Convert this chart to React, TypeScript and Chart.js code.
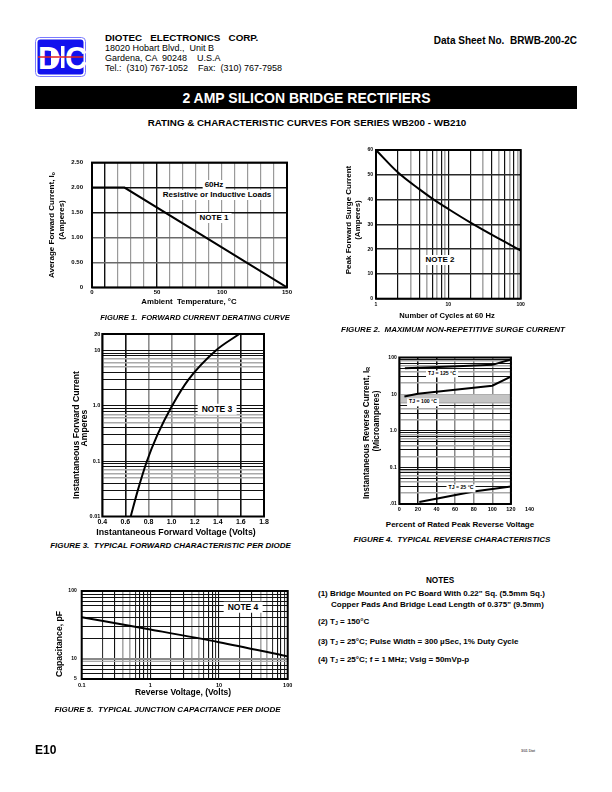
import React, { useEffect, useRef } from 'react';
import { Chart, registerables } from 'chart.js';

Chart.register(...registerables);

const FONT = '"Liberation Sans", Arial, Helvetica, sans-serif';
Chart.defaults.font.family = FONT;
Chart.defaults.color = '#000';

// ---------------- Figure 1: forward current derating ----------------
const fig1Temperature = [0, 25, 150];
const fig1Current = [2.0, 2.0, 0];
const fig1XLabelValues = [0, 50, 100, 150];
const fig1YValues = [0, 0.5, 1, 1.5, 2, 2.5];
const fig1YLabels = ['0', '0.50', '1.00', '1.50', '2.00', '2.50'];

// ---------------- Figure 2: surge current ----------------
const fig2Cycles = [1, 2, 4, 6, 10, 20, 50, 100];
const fig2Surge = [60, 51, 44.1, 40.4, 36.2, 30.8, 24.2, 19.4];
const fig2XLabelValues = [1, 10, 100];

// ---------------- Figure 3: forward characteristic ----------------
const fig3Voltage = [0.646, 0.708, 0.786, 0.877, 1.003, 1.146, 1.381, 1.586];
const fig3Current = [0.01, 0.03, 0.1, 0.3, 1, 3, 10, 20];
const fig3YValues = [0.01, 0.1, 1, 10, 20];
const fig3YLabels = ['0.01', '0.1', '1.0', '10', '20'];

// ---------------- Figure 4: reverse characteristics ----------------
const fig4Percent125 = [6, 50, 100, 120];
const fig4Current125 = [51, 56, 63, 88];
const fig4Percent100 = [5.5, 20, 50, 80, 100, 120];
const fig4Current100 = [8.6, 10.3, 12.4, 15, 17, 30];
const fig4Percent25 = [21.5, 80, 120];
const fig4Current25 = [0.0113, 0.022, 0.03];
const fig4YValues = [0.01, 0.1, 1, 10, 100];
const fig4YLabels = ['.01', '0.1', '1.0', '10', '100'];
const fig4FrameMax = 120;
const fig4BandLow = 6;
const fig4BandHigh = 10;

// ---------------- Figure 5: junction capacitance ----------------
const fig5Voltage = [0.1, 1, 10, 100];
const fig5Capacitance = [41, 27, 17.5, 10.8];
const fig5XValues = [0.1, 1, 10, 100];
const fig5XLabels = ['0.1', '1', '10', '100'];
const fig5YValues = [5, 10, 100];
const fig5YLabels = ['5', '10', '100'];

const BLACK = '#111';
const GRAY = '#a9a9a9';

const mant = (v: number) => {
  const e = Math.floor(Math.log10(v) + 1e-9);
  return Math.round(v / Math.pow(10, e));
};

function logTicks(min: number, max: number) {
  const out: number[] = [];
  for (let e = Math.floor(Math.log10(min)) - 1; e <= Math.ceil(Math.log10(max)); e++) {
    for (let m = 1; m < 10; m++) {
      const v = +(m * Math.pow(10, e)).toPrecision(6);
      if (v >= min * 0.9999 && v <= max * 1.0001) out.push(v);
    }
  }
  return out;
}

const labelFrom = (values: number[], labels: string[]) => (v: any) => {
  const n = Number(v);
  const i = values.findIndex((x) => Math.abs(x - n) < Math.abs(x) * 1e-6 + 1e-9);
  return i >= 0 ? labels[i] : '';
};

const tf = (size: number) => ({ family: FONT, size, weight: 'bold' as const });

const xy = (xs: number[], ys: number[]) => xs.map((x, i) => ({ x, y: ys[i] }));

const line = (data: any[], smooth: boolean) => ({
  data,
  borderColor: '#000',
  borderWidth: 2,
  pointRadius: 0,
  fill: false,
  tension: smooth ? 0.4 : 0,
  cubicInterpolationMode: smooth ? 'monotone' : 'default',
});

const framePlugin = (lw: number, xMaxValue?: number) => ({
  id: 'frame',
  beforeDatasetsDraw(chart: any) {
    const { ctx, chartArea: a } = chart;
    let right = a.right;
    ctx.save();
    if (xMaxValue !== undefined) {
      right = chart.scales.x.getPixelForValue(xMaxValue);
      ctx.fillStyle = '#fff';
      ctx.fillRect(right + 1, a.top - 2, a.right - right + 3, a.bottom - a.top + 3);
    }
    ctx.strokeStyle = '#000';
    ctx.lineWidth = lw;
    ctx.strokeRect(a.left, a.top, right - a.left, a.bottom - a.top);
    ctx.restore();
  },
});

const bandPlugin = {
  id: 'band',
  beforeDatasetsDraw(chart: any) {
    const { ctx, chartArea: a, scales } = chart;
    const top = scales.y.getPixelForValue(fig4BandHigh);
    const bot = scales.y.getPixelForValue(fig4BandLow);
    const right = scales.x.getPixelForValue(fig4FrameMax);
    ctx.save();
    ctx.fillStyle = '#c4c4c4';
    ctx.fillRect(a.left, top, right - a.left, bot - top);
    ctx.restore();
  },
};

function makeConfig(p: {
  datasets: any[];
  x: any;
  y: any;
  yWidth: number;
  xHeight: number;
  padTop: number;
  padRight: number;
  plugins: any[];
}) {
  return {
    type: 'line',
    data: { datasets: p.datasets },
    options: {
      responsive: false,
      maintainAspectRatio: false,
      animation: false,
      layout: { padding: { left: 0, top: p.padTop, right: p.padRight, bottom: 0 } },
      plugins: { legend: { display: false }, tooltip: { enabled: false } },
      scales: {
        x: {
          ...p.x,
          border: { display: false },
          afterFit: (s: any) => {
            s.height = p.xHeight;
          },
        },
        y: {
          ...p.y,
          border: { display: false },
          afterFit: (s: any) => {
            s.width = p.yWidth;
          },
        },
      },
    },
    plugins: p.plugins,
  } as any;
}

function ChartCanvas(props: { left: number; top: number; width: number; height: number; build: () => any }) {
  const ref = useRef<HTMLCanvasElement>(null);
  useEffect(() => {
    const chart = new Chart(ref.current as HTMLCanvasElement, props.build());
    return () => chart.destroy();
  }, []);
  return (
    <canvas
      ref={ref}
      width={props.width}
      height={props.height}
      style={{ position: 'absolute', left: props.left, top: props.top, width: props.width, height: props.height }}
    />
  );
}

// ---------- chart builders ----------
const buildFig1 = () =>
  makeConfig({
    datasets: [line(xy(fig1Temperature, fig1Current), false)],
    x: {
      type: 'linear',
      min: 0,
      max: 150,
      ticks: {
        stepSize: 10,
        autoSkip: false,
        maxRotation: 0,
        padding: 1.5,
        font: tf(6),
        callback: (v: any) => (fig1XLabelValues.includes(Number(v)) ? String(v) : ''),
      },
      grid: {
        drawTicks: false,
        color: (c: any) => (c.tick && (c.tick.value === 10 || c.tick.value === 50) ? BLACK : '#9a9a9a'),
        lineWidth: (c: any) => (c.tick && (c.tick.value === 10 || c.tick.value === 50) ? 1.4 : 1.2),
      },
    },
    y: {
      type: 'linear',
      min: 0,
      max: 2.5,
      ticks: { stepSize: 0.5, padding: 9, font: tf(6), callback: labelFrom(fig1YValues, fig1YLabels) },
      grid: {
        drawTicks: false,
        color: (c: any) => (c.tick && c.tick.value >= 1.5 ? BLACK : '#6a6a6a'),
        lineWidth: 1.4,
      },
    },
    yWidth: 37,
    xHeight: 12.5,
    padTop: 8,
    padRight: 13,
    plugins: [framePlugin(2)],
  });

const fig2XColor = (v: number) => ([1, 2, 4, 6, 8].includes(mant(v)) ? BLACK : GRAY);
const buildFig2 = () =>
  makeConfig({
    datasets: [line(xy(fig2Cycles, fig2Surge), true)],
    x: {
      type: 'logarithmic',
      min: 1,
      max: 100,
      afterBuildTicks: (s: any) => {
        s.ticks = logTicks(1, 100).map((value) => ({ value }));
      },
      ticks: {
        autoSkip: false,
        maxRotation: 0,
        padding: 2.8,
        font: tf(5),
        callback: (v: any) => (fig2XLabelValues.includes(Number(v)) ? String(v) : ''),
      },
      grid: {
        drawTicks: false,
        color: (c: any) => (c.tick ? fig2XColor(c.tick.value) : BLACK),
        lineWidth: (c: any) => (c.tick && fig2XColor(c.tick.value) === GRAY ? 1.6 : 1.2),
      },
    },
    y: {
      type: 'linear',
      min: 0,
      max: 60,
      ticks: { stepSize: 10, padding: 3, font: tf(5) },
      grid: { drawTicks: false, color: '#2a2a2a', lineWidth: 1.4 },
    },
    yWidth: 36,
    xHeight: 11.3,
    padTop: 7,
    padRight: 14.3,
    plugins: [framePlugin(2)],
  });

const fig3YColor = (v: number) => ([5, 6, 7].includes(mant(v)) ? GRAY : BLACK);
const fig3XColor = (v: number) => (Math.abs(v - 0.6) < 0.01 || Math.abs(v - 1.6) < 0.01 ? BLACK : '#8c8c8c');
const buildFig3 = () =>
  makeConfig({
    datasets: [line(xy(fig3Voltage, fig3Current), true)],
    x: {
      type: 'linear',
      min: 0.4,
      max: 1.8,
      ticks: {
        stepSize: 0.2,
        autoSkip: false,
        maxRotation: 0,
        padding: 1.8,
        font: tf(7),
        callback: (v: any) => Number(v).toFixed(1),
      },
      grid: {
        drawTicks: false,
        color: (c: any) => (c.tick ? fig3XColor(c.tick.value) : BLACK),
        lineWidth: 1.6,
      },
    },
    y: {
      type: 'logarithmic',
      min: 0.01,
      max: 20,
      afterBuildTicks: (s: any) => {
        s.ticks = logTicks(0.01, 20).map((value) => ({ value }));
      },
      ticks: { autoSkip: false, padding: 2, font: tf(5.5), callback: labelFrom(fig3YValues, fig3YLabels) },
      grid: {
        drawTicks: false,
        color: (c: any) => (c.tick ? fig3YColor(c.tick.value) : BLACK),
        lineWidth: (c: any) => (c.tick && fig3YColor(c.tick.value) === GRAY ? 1.6 : 1.1),
      },
    },
    yWidth: 27.3,
    xHeight: 9.5,
    padTop: 8,
    padRight: 11,
    plugins: [framePlugin(2)],
  });

const fig4YColor = (v: number) => ([2, 4, 6, 8].includes(mant(v)) ? GRAY : BLACK);
const fig4XColor = (v: number) => (v === 20 || v === 40 || v === 120 ? BLACK : '#8a8a8a');
const buildFig4 = () =>
  makeConfig({
    datasets: [
      line(xy(fig4Percent125, fig4Current125), false),
      line(xy(fig4Percent100, fig4Current100), false),
      line(xy(fig4Percent25, fig4Current25), false),
    ],
    x: {
      type: 'linear',
      min: 0,
      max: 140,
      ticks: { stepSize: 20, autoSkip: false, maxRotation: 0, padding: 1.8, font: tf(5.5) },
      grid: {
        drawTicks: false,
        color: (c: any) => (c.tick ? fig4XColor(c.tick.value) : BLACK),
        lineWidth: (c: any) => (c.tick && c.tick.value === 120 ? 2.2 : 1.5),
      },
    },
    y: {
      type: 'logarithmic',
      min: 0.01,
      max: 100,
      afterBuildTicks: (s: any) => {
        s.ticks = logTicks(0.01, 100).map((value) => ({ value }));
      },
      ticks: { autoSkip: false, padding: 2.6, font: tf(5), callback: labelFrom(fig4YValues, fig4YLabels) },
      grid: {
        drawTicks: false,
        color: (c: any) => (c.tick ? fig4YColor(c.tick.value) : BLACK),
        lineWidth: (c: any) => (c.tick && fig4YColor(c.tick.value) === GRAY ? 1.4 : 1.1),
      },
    },
    yWidth: 34.3,
    xHeight: 11,
    padTop: 7.5,
    padRight: 10.5,
    plugins: [bandPlugin, framePlugin(2, fig4FrameMax)],
  });

const fig5XColor = (v: number) => ([1, 3, 7, 8].includes(mant(v)) ? BLACK : [4, 5].includes(mant(v)) ? GRAY : '#333');
const fig5YColor = (v: number) => (mant(v) === 1 && v < 50 ? '#8a8a8a' : mant(v) === 9 && v < 50 ? GRAY : BLACK);
const buildFig5 = () =>
  makeConfig({
    datasets: [line(xy(fig5Voltage, fig5Capacitance), true)],
    x: {
      type: 'logarithmic',
      min: 0.1,
      max: 100,
      afterBuildTicks: (s: any) => {
        s.ticks = logTicks(0.1, 100).map((value) => ({ value }));
      },
      ticks: { autoSkip: false, maxRotation: 0, padding: 3.5, font: tf(5.5), callback: labelFrom(fig5XValues, fig5XLabels) },
      grid: {
        drawTicks: false,
        color: (c: any) => (c.tick ? fig5XColor(c.tick.value) : BLACK),
        lineWidth: (c: any) => (c.tick && fig5XColor(c.tick.value) === GRAY ? 1.6 : 1.1),
      },
    },
    y: {
      type: 'logarithmic',
      min: 5,
      max: 100,
      afterBuildTicks: (s: any) => {
        s.ticks = logTicks(5, 100).map((value) => ({ value }));
      },
      ticks: { autoSkip: false, padding: 5, font: tf(5), callback: labelFrom(fig5YValues, fig5YLabels) },
      grid: {
        drawTicks: false,
        color: (c: any) => (c.tick ? fig5YColor(c.tick.value) : BLACK),
        lineWidth: (c: any) => (c.tick && c.tick.value === 10 ? 2.2 : 1.1),
      },
    },
    yWidth: 31.7,
    xHeight: 14,
    padTop: 7,
    padRight: 12.3,
    plugins: [framePlugin(2)],
  });

// ---------- text helper ----------
type TP = {
  x: number;
  y: number;
  s: number;
  c?: boolean;
  b?: boolean;
  i?: boolean;
  r?: boolean;
  right?: boolean;
  bg?: boolean;
  pad?: number;
  color?: string;
  children: React.ReactNode;
};
function Txt({ x, y, s, c = false, b = true, i = false, r = false, right = false, bg = false, pad = 0, color = '#000', children }: TP) {
  let transform = 'translate(0,-50%)';
  if (c) transform = 'translate(-50%,-50%)';
  if (right) transform = 'translate(-100%,-50%)';
  if (r) transform = 'translate(-50%,-50%) rotate(-90deg)';
  return (
    <div
      style={{
        position: 'absolute',
        left: x,
        top: y,
        transform,
        fontSize: s,
        fontWeight: b ? 'bold' : 'normal',
        fontStyle: i ? 'italic' : 'normal',
        whiteSpace: 'pre',
        lineHeight: 1,
        color,
        background: bg ? '#fff' : 'transparent',
        padding: pad ? `1px ${pad}px` : 0,
      }}
    >
      {children}
    </div>
  );
}

const Sub = ({ children }: { children: React.ReactNode }) => (
  <span style={{ fontSize: '0.65em', verticalAlign: '-0.15em' }}>{children}</span>
);

export default function App() {
  return (
    <div
      style={{
        position: 'absolute',
        left: 0,
        top: 0,
        width: 612,
        height: 792,
        background: '#fff',
        overflow: 'hidden',
        fontFamily: FONT,
        color: '#000',
      }}
    >
      {/* Logo */}
      <svg style={{ position: 'absolute', left: 35, top: 37 }} width={51} height={40} viewBox="0 0 51 40">
        <rect x={0.5} y={0.5} width={50} height={39} rx={4} fill="#fff" stroke="#7a7aff" strokeWidth={1} />
        <rect x={2.5} y={2.5} width={46} height={35} rx={3} fill="#1212ee" />
        <text x={3} y={32} fill="#fff" fontSize={31} fontWeight="bold" fontFamily={FONT}>D</text>
        <polygon points="16,11 16,29 26,20" fill="#fff" />
        <rect x={26} y={9} width={3.5} height={22} fill="#fff" />
        <text x={30} y={32} fill="#fff" fontSize={31} fontWeight="bold" fontFamily={FONT}>C</text>
        <line x1={3} y1={20} x2={48} y2={20} stroke="#e02020" strokeWidth={1.6} />
      </svg>

      {/* Header text */}
      <Txt x={105} y={38} s={9.8}>{'DIOTEC   ELECTRONICS   CORP.'}</Txt>
      <Txt x={105} y={47.5} s={9} b={false}>{'18020 Hobart Blvd.,  Unit B'}</Txt>
      <Txt x={105} y={57.5} s={9} b={false}>{'Gardena, CA  90248    U.S.A'}</Txt>
      <Txt x={105} y={68} s={9} b={false}>{'Tel.:  (310) 767-1052    Fax:  (310) 767-7958'}</Txt>
      <Txt x={577} y={41} s={10} right>{'Data Sheet No.  BRWB-200-2C'}</Txt>

      <div style={{ position: 'absolute', left: 35, top: 86, width: 542, height: 23, background: '#000' }} />
      <Txt x={306.5} y={97.5} s={14} c color="#fff">2 AMP SILICON BRIDGE RECTIFIERS</Txt>
      <Txt x={307} y={123} s={9.8} c>{'RATING & CHARACTERISTIC CURVES FOR SERIES WB200 - WB210'}</Txt>

      {/* Figure 1 */}
      <ChartCanvas left={55} top={150} width={245} height={150} build={buildFig1} />
      <Txt x={51.5} y={225} s={8} r>{'Average Forward Current, I'}<Sub>o</Sub></Txt>
      <Txt x={61.5} y={220} s={8} r>(Amperes)</Txt>
      <Txt x={214} y={185} s={8} c bg pad={2}>60Hz</Txt>
      <Txt x={217} y={195} s={8} c bg pad={2}>Resistive or Inductive Loads</Txt>
      <Txt x={214} y={218} s={8} c bg pad={3}>NOTE 1</Txt>
      <Txt x={189} y={302} s={7.8} c>{'Ambient  Temperature, °C'}</Txt>
      <Txt x={195} y={317.5} s={7.6} c i>{'FIGURE 1.  FORWARD CURRENT DERATING CURVE'}</Txt>

      {/* Figure 2 */}
      <ChartCanvas left={340} top={143} width={195} height={167} build={buildFig2} />
      <Txt x={348.5} y={220} s={8} r>Peak Forward Surge Current</Txt>
      <Txt x={357.5} y={220} s={8} r>(Amperes)</Txt>
      <Txt x={440} y={259.5} s={8} c bg pad={3}>NOTE 2</Txt>
      <Txt x={447} y={316} s={7.6} c>Number of Cycles at 60 Hz</Txt>
      <Txt x={453} y={330} s={8} c i>{'FIGURE 2.  MAXIMUM NON-REPETITIVE SURGE CURRENT'}</Txt>

      {/* Figure 3 */}
      <ChartCanvas left={75} top={326} width={200} height={200} build={buildFig3} />
      <Txt x={75.5} y={435} s={8.6} r>Instantaneous Forward Current</Txt>
      <Txt x={84} y={428} s={8.6} r>Amperes</Txt>
      <Txt x={217} y={409} s={8.5} c bg pad={4}>NOTE 3</Txt>
      <Txt x={176} y={531.5} s={8.8} c>Instantaneous Forward Voltage (Volts)</Txt>
      <Txt x={170.5} y={546} s={8} c i>{'FIGURE 3.  TYPICAL FORWARD CHARACTERISTIC PER DIODE'}</Txt>

      {/* Figure 4 */}
      <ChartCanvas left={365} top={350} width={175} height={165} build={buildFig4} />
      <Txt x={367} y={433} s={8.2} r>{'Instantaneous Reverse Current, I'}<Sub>R</Sub></Txt>
      <Txt x={376.5} y={421} s={8.2} r>(Microamperes)</Txt>
      <Txt x={442} y={374} s={5.2} c bg pad={2}>{'TJ = 125 °C'}</Txt>
      <Txt x={423} y={402.3} s={5.2} c bg pad={2}>{'TJ = 100 °C'}</Txt>
      <Txt x={461} y={488.3} s={5.2} c bg pad={2}>{'TJ = 25 °C'}</Txt>
      <Txt x={460} y={525} s={8} c>Percent of Rated Peak Reverse Voltage</Txt>
      <Txt x={452} y={540} s={8} c i>{'FIGURE 4.  TYPICAL REVERSE CHARACTERISTICS'}</Txt>

      {/* Figure 5 */}
      <ChartCanvas left={50} top={583} width={250} height={110} build={buildFig5} />
      <Txt x={59} y={644} s={8.6} r>Capacitance, pF</Txt>
      <Txt x={243} y={607} s={8.5} c bg pad={4}>NOTE 4</Txt>
      <Txt x={183} y={692} s={8.5} c>Reverse Voltage, (Volts)</Txt>
      <Txt x={167.5} y={710} s={8} c i>{'FIGURE 5.  TYPICAL JUNCTION CAPACITANCE PER DIODE'}</Txt>

      {/* Notes */}
      <Txt x={440} y={581} s={8.2} c>NOTES</Txt>
      <Txt x={318} y={594} s={8}>{'(1) Bridge Mounted on PC Board With 0.22" Sq. (5.5mm Sq.)'}</Txt>
      <Txt x={331} y={604.5} s={8}>{'Copper Pads And Bridge Lead Length of 0.375" (9.5mm)'}</Txt>
      <Txt x={318} y={622} s={8}>{'(2) T'}<Sub>J</Sub>{' = 150°C'}</Txt>
      <Txt x={318} y={641.5} s={8}>{'(3) T'}<Sub>J</Sub>{' = 25°C; Pulse Width = 300 µSec, 1% Duty Cycle'}</Txt>
      <Txt x={318} y={660} s={8}>{'(4) T'}<Sub>J</Sub>{' = 25°C; f = 1 MHz; Vsig = 50mVp-p'}</Txt>

      {/* Footer */}
      <Txt x={35} y={750} s={12}>E10</Txt>
      <Txt x={521} y={752} s={3.5} b={false}>3/01 Diot</Txt>
    </div>
  );
}
